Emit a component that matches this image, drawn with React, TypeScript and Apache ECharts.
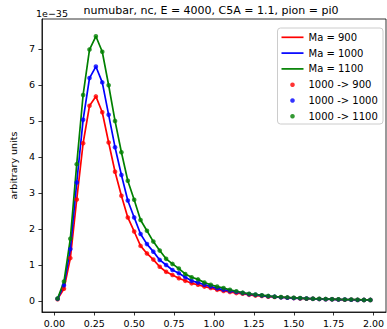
import React, { useEffect, useRef } from "react";
import * as echarts from "echarts";

const xValues = [
  0.02, 0.06, 0.10, 0.14, 0.18, 0.22, 0.26, 0.30, 0.34, 0.38,
  0.42, 0.46, 0.50, 0.54, 0.58, 0.62, 0.66, 0.70, 0.74, 0.78,
  0.82, 0.86, 0.90, 0.94, 0.98, 1.02, 1.06, 1.10, 1.14, 1.18,
  1.22, 1.26, 1.30, 1.34, 1.38, 1.42, 1.46, 1.50, 1.54, 1.58,
  1.62, 1.66, 1.70, 1.74, 1.78, 1.82, 1.86, 1.90, 1.94, 1.98,
];

const ma900 = [
  0.05, 0.34, 1.19, 2.82, 4.38, 5.42, 5.68, 5.24, 4.40, 3.59,
  2.92, 2.32, 1.93, 1.53, 1.32, 1.15, 0.95, 0.81, 0.72, 0.63,
  0.56, 0.49, 0.45, 0.40, 0.36, 0.31, 0.28, 0.25, 0.22, 0.20,
  0.17, 0.15, 0.14, 0.12, 0.11, 0.10, 0.09, 0.08, 0.07, 0.065,
  0.06, 0.055, 0.05, 0.045, 0.04, 0.035, 0.035, 0.03, 0.03, 0.03,
];

const ma1000 = [
  0.06, 0.44, 1.44, 3.29, 5.03, 6.19, 6.51, 6.07, 5.17, 4.27,
  3.50, 2.79, 2.32, 1.86, 1.58, 1.37, 1.14, 1.00, 0.86, 0.77,
  0.66, 0.56, 0.51, 0.45, 0.40, 0.35, 0.31, 0.28, 0.25, 0.22,
  0.19, 0.17, 0.15, 0.13, 0.12, 0.10, 0.09, 0.08, 0.075, 0.07,
  0.06, 0.055, 0.05, 0.045, 0.04, 0.04, 0.035, 0.03, 0.03, 0.03,
];

const ma1100 = [
  0.07, 0.54, 1.73, 3.80, 5.72, 6.98, 7.35, 6.92, 5.99, 5.00,
  4.13, 3.34, 2.81, 2.25, 1.95, 1.65, 1.40, 1.17, 1.03, 0.90,
  0.75, 0.66, 0.60, 0.51, 0.45, 0.40, 0.36, 0.31, 0.27, 0.23,
  0.20, 0.18, 0.16, 0.14, 0.12, 0.11, 0.10, 0.09, 0.08, 0.07,
  0.065, 0.06, 0.055, 0.05, 0.045, 0.04, 0.04, 0.035, 0.03, 0.03,
];

// reweighted points (1000 -> Ma), same values as the curves
const rw900 = ma900;
const rw1000 = ma1000;
const rw1100 = ma1100;

const xTicks = [0, 0.25, 0.5, 0.75, 1.0, 1.25, 1.5, 1.75, 2.0];
const yTicks = [0, 1, 2, 3, 4, 5, 6, 7];

const lineNames = ["Ma = 900", "Ma = 1000", "Ma = 1100"];
const dotNames = ["1000 -> 900", "1000 -> 1000", "1000 -> 1100"];
const colors = ["#ff0000", "#0000ff", "#008000"];

const FONT = "DejaVu Sans";

export default function App() {
  const ref = useRef<HTMLDivElement>(null);
  useEffect(() => {
    if (!ref.current) return;
    const chart = echarts.init(ref.current, undefined, { renderer: "svg" });
    const pairs = (ys: number[]) => xValues.map((x, i) => [x, ys[i]]);
    const lineData = [ma900, ma1000, ma1100];
    const dotData = [rw900, rw1000, rw1100];
    const series: any[] = [];
    lineData.forEach((ys, i) => {
      series.push({
        type: "line",
        name: lineNames[i],
        data: pairs(ys),
        symbol: "none",
        color: colors[i],
        lineStyle: { color: colors[i], width: 1.7 },
        z: 2,
      });
    });
    dotData.forEach((ys, i) => {
      series.push({
        type: "scatter",
        name: dotNames[i],
        data: pairs(ys),
        symbol: "circle",
        symbolSize: 4.6,
        color: colors[i],
        itemStyle: { color: colors[i] },
        z: 3,
      });
    });
    const axisCommon = {
      axisLine: { show: true, onZero: false, lineStyle: { color: "#000", width: 0.8 } },
      axisTick: { show: true, inside: false, length: 3.5, lineStyle: { color: "#000", width: 0.8 } },
      splitLine: { show: false },
    };
    chart.setOption({
      animation: false,
      grid: {
        left: 36,
        right: 1,
        top: 19,
        bottom: 17,
        show: true,
        borderColor: "#000",
        borderWidth: 0.8,
        containLabel: false,
      },
      xAxis: {
        type: "value",
        min: -0.078,
        max: 2.078,
        ...axisCommon,
        axisTick: { ...axisCommon.axisTick, customValues: xTicks },
        axisLabel: {
          customValues: xTicks,
          formatter: (v: number) => v.toFixed(2),
          fontFamily: FONT,
          fontSize: 9.5,
          color: "#000",
          margin: 6,
        },
      },
      yAxis: {
        type: "value",
        min: -0.306,
        max: 7.83,
        ...axisCommon,
        axisTick: { ...axisCommon.axisTick, customValues: yTicks },
        axisLabel: {
          customValues: yTicks,
          formatter: (v: number) => String(v),
          fontFamily: FONT,
          fontSize: 9.5,
          color: "#000",
          margin: 7,
        },
        name: "arbitrary units",
        nameLocation: "middle",
        nameRotate: 90,
        nameGap: 21,
        nameTextStyle: { fontFamily: FONT, fontSize: 9.5, color: "#000" },
      },
      legend: {
        orient: "vertical",
        left: 281.5,
        top: 31.3,
        padding: 0,
        itemWidth: 22,
        itemHeight: 4.6,
        itemGap: 3.8,
        textStyle: { fontFamily: FONT, fontSize: 10, color: "#000", lineHeight: 12 },
        data: [
          ...lineNames.map((n) => ({ name: n, icon: "path://M0,0 H22 V1.7 H0 Z" })),
          ...dotNames.map((n) => ({ name: n, icon: "circle" })),
        ],
        z: 10,
      },
      graphic: [
        {
          type: "rect",
          shape: { x: 277.5, y: 28, width: 105.5, height: 96, r: 3 },
          style: { fill: "rgba(255,255,255,0.85)", stroke: "#cccccc", lineWidth: 1 },
          z: 5,
        },
        {
          type: "text",
          x: 211,
          y: 5,
          style: {
            text: "numubar, nc, E = 4000, C5A = 1.1, pion = pi0",
            fontFamily: FONT,
            fontSize: 11,
            fill: "#000",
            align: "center",
            verticalAlign: "top",
          },
          z: 5,
        },
        {
          type: "text",
          x: 36,
          y: 18,
          style: {
            text: "1e\u221235",
            fontFamily: FONT,
            fontSize: 9.5,
            fill: "#000",
            align: "left",
            verticalAlign: "bottom",
          },
          z: 5,
        },
      ],
      series,
    });
    return () => chart.dispose();
  }, []);
  return <div ref={ref} style={{ width: 387, height: 329, position: "absolute", left: 0, top: 0 }} />;
}
